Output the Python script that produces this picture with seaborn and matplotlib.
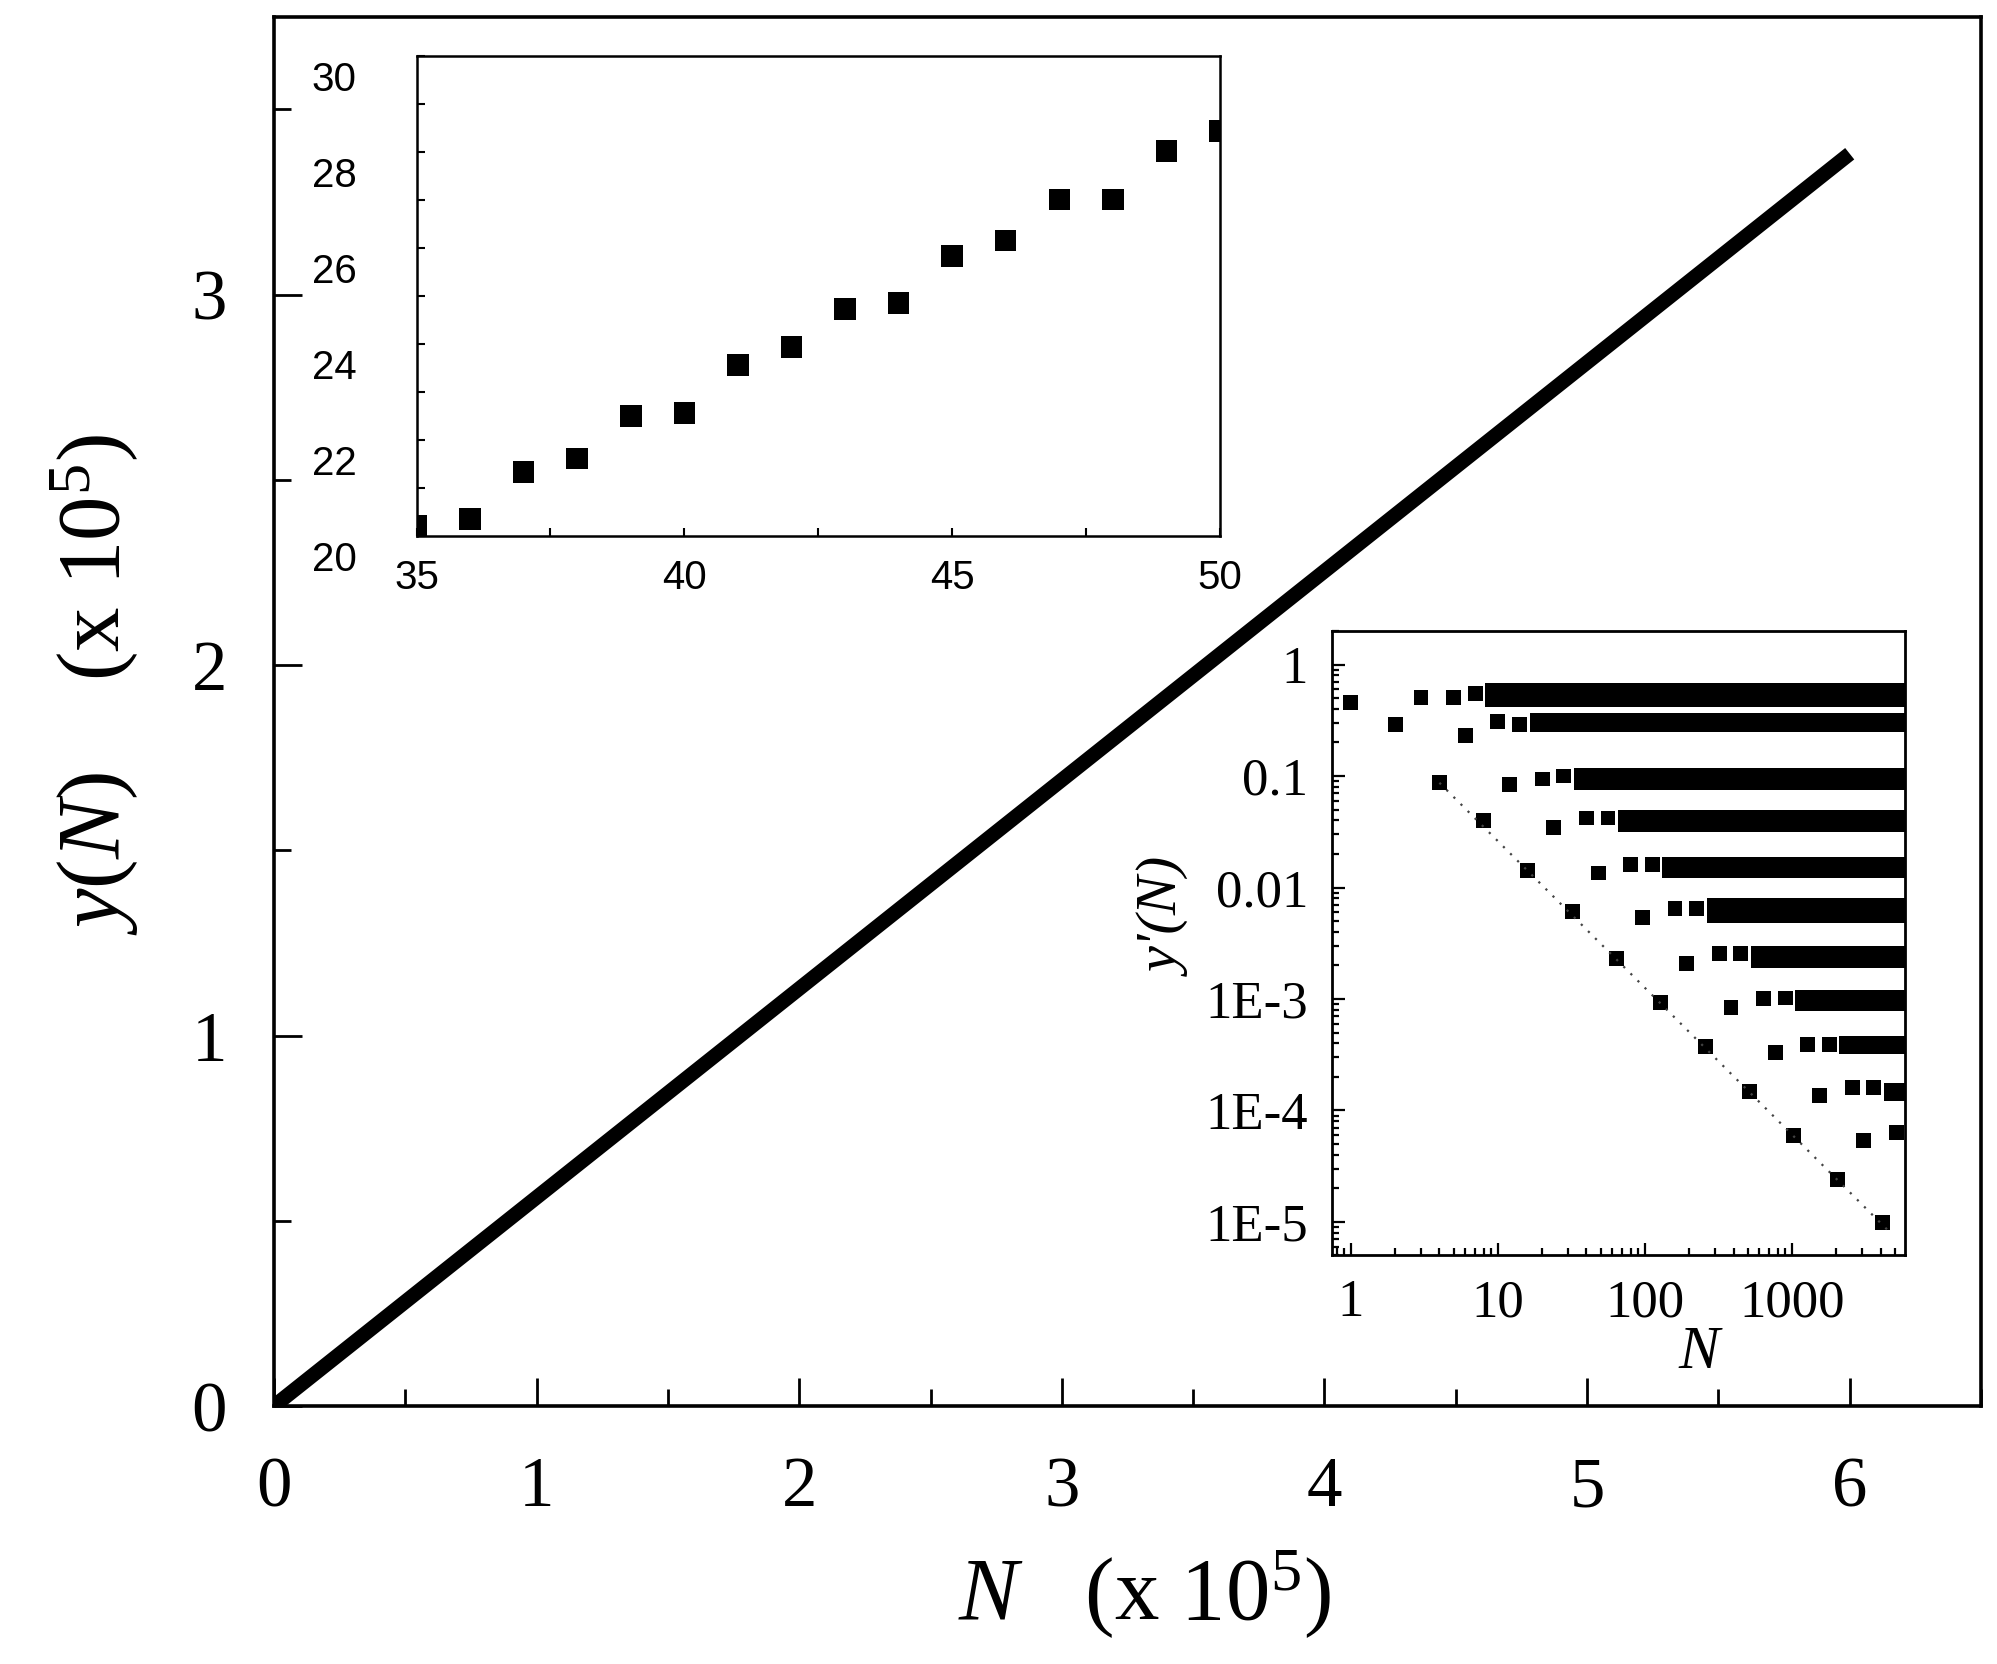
import matplotlib
matplotlib.use("Agg")
import matplotlib.pyplot as plt
import matplotlib.transforms as mtransforms
from matplotlib.ticker import FixedLocator, FixedFormatter, MultipleLocator, LogLocator, NullFormatter
import pandas as pd
import seaborn as sns

# ---------------- data ----------------
# main panel: y(N) (x 10^5) versus N (x 10^5), a dense straight band of points
main_N = [0.0, 6.0]
main_y = [0.0, 3.38]
main_xticks = [0, 1, 2, 3, 4, 5, 6]
main_yticks = [0, 1, 2, 3]

# upper inset: small-N detail
inset1_N = [35, 36, 37, 38, 39, 40, 41, 42, 43, 44, 45, 46, 47, 48, 49, 50]
inset1_y = [20.2, 20.35, 21.33, 21.61, 22.50, 22.56, 23.56, 23.93,
            24.72, 24.85, 25.83, 26.15, 27.01, 27.01, 28.02, 28.43]
inset1_xticks = [35, 40, 45, 50]
inset1_yticks = [20, 22, 24, 26, 28, 30]

# lower inset: y'(N) versus N (log-log), isolated points
inset2_N = [1, 3, 5, 7,
            2, 6, 10, 14,
            4, 12, 20, 28,
            8, 24, 40, 56,
            16, 48, 80, 112,
            32, 96, 160, 224,
            64, 192, 320, 448,
            128, 384, 640, 896,
            256, 768, 1280, 1792,
            512, 1536, 2560, 3584,
            1024, 3072, 5120,
            2048, 4096]
inset2_y = [0.46, 0.51, 0.51, 0.545,
            0.29, 0.23, 0.31, 0.29,
            0.088, 0.084, 0.094, 0.10,
            0.040, 0.0345, 0.042, 0.042,
            0.0143, 0.0135, 0.016, 0.016,
            0.0061, 0.0054, 0.0065, 0.0065,
            0.0023, 0.0021, 0.00255, 0.00256,
            0.00093, 0.00084, 0.00101, 0.00102,
            0.000375, 0.000334, 0.00039, 0.00039,
            0.000149, 0.000135, 0.00016, 0.00016,
            6.0e-5, 5.4e-5, 6.4e-5,
            2.4e-5, 9.8e-6]
# dense (saturated) horizontal bands of points in the lower inset
band_start = [8.2, 16.5, 33, 66, 131, 262, 525, 1050, 2100, 4200]
band_lo = [0.418, 0.249, 0.075, 0.0315, 0.0121, 0.0048, 0.0019, 0.00078, 0.000318, 0.000121]
band_hi = [0.688, 0.370, 0.118, 0.0494, 0.0187, 0.0080, 0.0030, 0.00120, 0.000461, 0.000176]
band_end = 6000
# dotted guide through the powers of two
fit_N = [4, 4700]
fit_y = [0.087, 7.9e-6]
inset2_xticks = [1, 10, 100, 1000]
inset2_xlabels = ["1", "10", "100", "1000"]
inset2_yticks = [1, 0.1, 0.01, 1e-3, 1e-4, 1e-5]
inset2_ylabels = ["1", "0.1", "0.01", "1E-3", "1E-4", "1E-5"]

# ---------------- style ----------------
sns.set_theme(style="white")
plt.rcParams["font.family"] = ["Liberation Serif", "DejaVu Serif"]
plt.rcParams["mathtext.fontset"] = "custom"
plt.rcParams["mathtext.rm"] = "Liberation Serif"
plt.rcParams["mathtext.it"] = "Liberation Serif:italic"
plt.rcParams["mathtext.bf"] = "Liberation Serif:bold"
for key in ["text.color", "axes.labelcolor", "xtick.color", "ytick.color", "axes.edgecolor"]:
    plt.rcParams[key] = "black"

fig = plt.figure(figsize=(19.97, 16.64), dpi=100)

# ---------------- main axes ----------------
ax = fig.add_axes([0.1372, 0.155, 0.8548, 0.835])
main_df = pd.DataFrame({"N": main_N, "y": main_y})
sns.lineplot(data=main_df, x="N", y="y", ax=ax, color="black", lw=10.5,
             solid_capstyle="butt")
ax.set_xlim(0, 6.5)
ax.set_ylim(0, 3.75)
ax.xaxis.set_major_locator(FixedLocator(main_xticks))
ax.yaxis.set_major_locator(FixedLocator(main_yticks))
ax.xaxis.set_minor_locator(MultipleLocator(0.5))
ax.yaxis.set_minor_locator(MultipleLocator(0.5))
ax.tick_params(which="both", direction="in", top=False, right=False,
               bottom=True, left=True, width=2, color="black", labelcolor="black")
ax.tick_params(which="major", length=20, labelsize=51)
ax.tick_params(which="minor", length=12)
ax.tick_params(axis="x", which="major", pad=36)
ax.tick_params(axis="y", which="major", pad=34)
for s in ax.spines.values():
    s.set_linewidth(2.6)
    s.set_color("black")
ax.set_xlabel(r"$\mathit{N}$   (x 10$^5$)", fontsize=64)
ax.set_ylabel(r"$\mathit{y(N)}$    (x 10$^5$)", fontsize=64)
ax.xaxis.set_label_coords(0.51, -0.136)
ax.xaxis.label.set_va("center")
ax.yaxis.set_label_coords(-0.105, 0.519)
ax.yaxis.label.set_va("center")

# ---------------- upper inset ----------------
ax1 = fig.add_axes([0.2086, 0.678, 0.4023, 0.2885])
ax1.set_facecolor("white")
sns.scatterplot(x=inset1_N, y=inset1_y, ax=ax1, marker="s", s=240,
                color="black", edgecolor="none", linewidth=0, legend=False)
ax1.set_xlim(35, 50)
ax1.set_ylim(20, 30)
ax1.xaxis.set_major_locator(FixedLocator(inset1_xticks))
ax1.yaxis.set_major_locator(FixedLocator(inset1_yticks))
ax1.xaxis.set_minor_locator(MultipleLocator(2.5))
ax1.yaxis.set_minor_locator(MultipleLocator(1))
ax1.tick_params(which="both", direction="in", top=False, right=False,
                bottom=True, left=True, length=6, width=1.5, color="black",
                labelcolor="black")
ax1.tick_params(axis="x", which="major", pad=17, labelsize=29)
ax1.tick_params(axis="y", which="major", pad=43, labelsize=29)
for lab in ax1.get_xticklabels() + ax1.get_yticklabels():
    lab.set_fontfamily(["Liberation Sans", "DejaVu Sans"])
shift = mtransforms.ScaledTranslation(0, -0.20, fig.dpi_scale_trans)
for lab in ax1.get_yticklabels():
    lab.set_transform(lab.get_transform() + shift)
for s in ax1.spines.values():
    s.set_linewidth(1.8)
    s.set_color("black")
ax1.set_xlabel("")
ax1.set_ylabel("")

# ---------------- lower inset ----------------
ax2 = fig.add_axes([0.6668, 0.2455, 0.2871, 0.3753])
ax2.set_facecolor("white")
ax2.set_xscale("log")
ax2.set_yscale("log")
for i in range(len(band_start)):
    ax2.fill_between([band_start[i], band_end], band_lo[i], band_hi[i],
                     color="black", linewidth=0)
ax2.plot(fit_N, fit_y, color="#444444", lw=1.6, linestyle=(0, (1.0, 3.5)))
sns.scatterplot(x=inset2_N, y=inset2_y, ax=ax2, marker="s", s=115,
                color="black", edgecolor="none", linewidth=0, legend=False)
ax2.set_xlim(0.74, 5850)
ax2.set_ylim(5e-6, 2)
ax2.xaxis.set_major_locator(FixedLocator(inset2_xticks))
ax2.xaxis.set_major_formatter(FixedFormatter(inset2_xlabels))
ax2.yaxis.set_major_locator(FixedLocator(inset2_yticks))
ax2.yaxis.set_major_formatter(FixedFormatter(inset2_ylabels))
ax2.xaxis.set_minor_locator(LogLocator(base=10, subs=range(2, 10), numticks=20))
ax2.yaxis.set_minor_locator(LogLocator(base=10, subs=range(2, 10), numticks=20))
ax2.xaxis.set_minor_formatter(NullFormatter())
ax2.yaxis.set_minor_formatter(NullFormatter())
ax2.tick_params(which="both", direction="in", top=False, right=False,
                bottom=True, left=True, width=1.6, color="black", labelcolor="black")
ax2.tick_params(which="major", length=9, labelsize=38, pad=17)
ax2.tick_params(which="minor", length=5)
for s in ax2.spines.values():
    s.set_linewidth(2.0)
    s.set_color("black")
ax2.set_xlabel("N", fontsize=44, fontstyle="italic")
ax2.set_ylabel("y'(N)", fontsize=42, fontstyle="italic")
ax2.xaxis.set_label_coords(0.641, -0.157)
ax2.xaxis.label.set_va("center")
ax2.yaxis.set_label_coords(-0.287, 0.54)
ax2.yaxis.label.set_va("center")

fig.savefig("out.png", dpi=100, facecolor="white")
